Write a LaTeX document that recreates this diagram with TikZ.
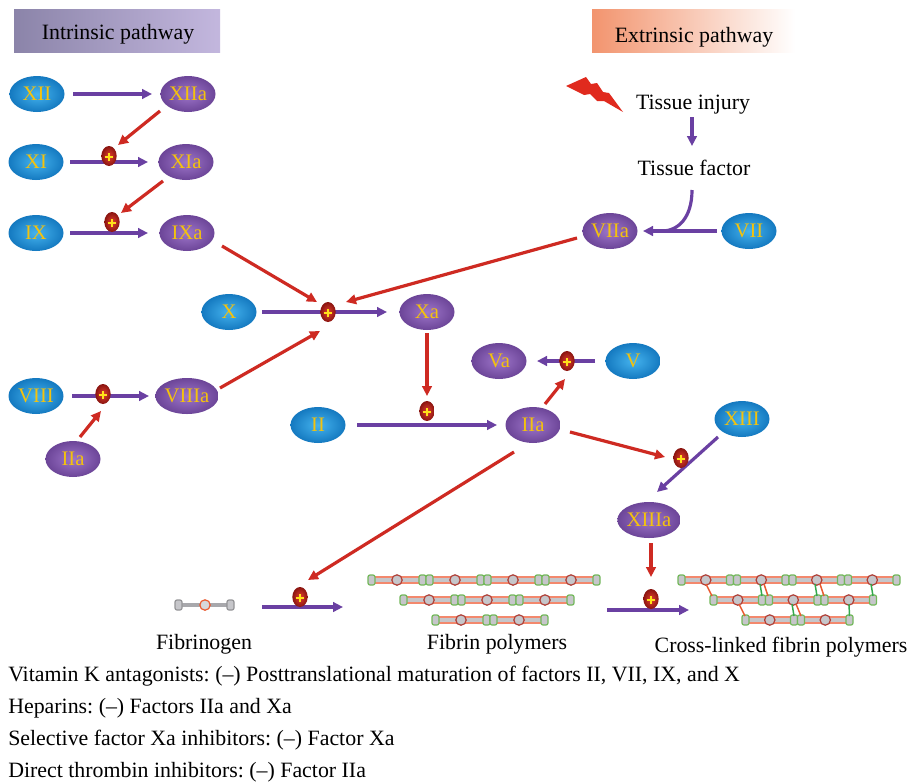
\documentclass[tikz,border=0pt]{standalone}
\usepackage{fontspec}
\setmainfont{Liberation Serif}
\usetikzlibrary{arrows.meta,shapes.geometric,calc}
\pgfdeclarelayer{back}
\pgfsetlayers{back,main}
\frenchspacing

\definecolor{arrowpurple}{HTML}{6A40A2}
\definecolor{arrowred}{HTML}{CE2A22}
\definecolor{factorgold}{HTML}{F4C20D}
\definecolor{zymblue}{HTML}{1479C0}
\definecolor{zymbluehi}{HTML}{45B3EE}
\definecolor{actpurple}{HTML}{6C4598}
\definecolor{actpurplehi}{HTML}{9E76CA}
\definecolor{ballred}{HTML}{E2402E}
\definecolor{balldark}{HTML}{8A1410}
\definecolor{plusyellow}{HTML}{FFE21A}
\definecolor{intrleft}{HTML}{8B84A9}
\definecolor{intrright}{HTML}{C3B7DE}
\definecolor{extrleft}{HTML}{F2946E}
\definecolor{extrmid}{HTML}{F8BE9F}
\definecolor{halocol}{HTML}{F27454}
\definecolor{fibgray}{HTML}{C6C6CA}
\definecolor{fibgreen}{HTML}{72B85A}
\definecolor{fibred}{HTML}{B04038}
\definecolor{linkred}{HTML}{EA5A30}
\definecolor{linkgreen}{HTML}{34A84C}
\definecolor{boltred}{HTML}{E02A1E}

\tikzset{
  factor/.style={ellipse, minimum width=41.25pt, minimum height=27pt, inner sep=0pt,
    text=factorgold, font=\fontsize{15.5}{16}\selectfont},
  zymogen/.style={factor, inner color=zymbluehi, outer color=zymblue},
  active/.style={factor, inner color=actpurplehi, outer color=actpurple},
  plusball/.style={ellipse, minimum width=11.5pt, minimum height=15pt, inner sep=0pt,
    inner color=ballred, outer color=balldark,
    path picture={\draw[plusyellow, line width=0.9pt]
      ([xshift=-3.2pt,yshift=-0.8pt]path picture bounding box.center) -- ([xshift=3.2pt,yshift=-0.8pt]path picture bounding box.center)
      ([yshift=-4pt]path picture bounding box.center) -- ([yshift=2.4pt]path picture bounding box.center);}},
  parr/.style={draw=arrowpurple, line width=2.4pt, -{Triangle[length=7.5pt,width=7.2pt]}},
  rarr/.style={draw=arrowred, line width=2.4pt, -{Triangle[length=7.5pt,width=7.2pt]}},
  caption/.style={font=\fontsize{16.4}{18}\selectfont, inner sep=0pt},
  hdrbox/.style={minimum height=32.25pt, inner sep=0pt},
  fibblock/.style={draw=fibgreen, fill=fibgray, line width=0.9pt, rounded corners=1.5pt},
  fibnode/.style={draw=fibred, fill=fibgray, line width=0.9pt},
  xlinkred/.style={linkred, line width=1.1pt},
  xlinkgreen/.style={linkgreen, line width=1.1pt},
}

% one fibrin strand: start x, y, number of monomers, monomer length
\newcommand{\fibrow}[4]{%
  \draw[line width=6pt, halocol, opacity=0.85] (#1,#2) -- ({#1+#3*#4},#2);
  \draw[line width=2.6pt, fibgray] (#1,#2) -- ({#1+#3*#4},#2);
  \foreach \k in {1,...,#3}{
    \pgfmathsetmacro{\ua}{#1+(\k-1)*#4+3.5}
    \pgfmathsetmacro{\ub}{#1+\k*#4-3.5}
    \pgfmathsetmacro{\uc}{#1+(\k-0.5)*#4}
    \draw[fibblock] (\ua-3.5,#2-5) rectangle (\ua+3.5,#2+5);
    \draw[fibblock] (\ub-3.5,#2-5) rectangle (\ub+3.5,#2+5);
    \draw[fibnode] (\uc,#2) circle[radius=3.9pt];
  }%
}

\begin{document}
\begin{tikzpicture}[x=0.75pt,y=-0.75pt]
\useasboundingbox (0,0) rectangle (909,782);
\begin{pgfonlayer}{back}
\fill[white] (0,0) rectangle (909,782);
\end{pgfonlayer}

% pathway headers
\node[hdrbox, minimum width=154.5pt, left color=intrleft, right color=intrright] (intrbox) at (117,30.5) {};
\node[caption, anchor=base] (intrtext) at (118,39.5) {Intrinsic pathway};
\node[hdrbox, minimum width=152.25pt, left color=extrleft, middle color=extrmid, right color=white] (extrbox) at (693.5,30.5) {};
\node[caption, anchor=base] (extrtext) at (694,42.5) {Extrinsic pathway};

% tissue injury
\fill[boltred] (566,86) -- (586,77) -- (591,84) -- (597,83) -- (603,92) -- (609,93) -- (623,112)
  -- (604,101) -- (597,101) -- (590,94) -- (584,95) -- cycle;
\node[caption, anchor=base] (injury) at (693,109) {Tissue injury};
\node[caption, anchor=base] (tf) at (694,175) {Tissue factor};

% coagulation factors
\node[zymogen] (XII) at (37,94) {XII};
\node[active]  (XIIa) at (188,94) {XIIa};
\node[zymogen] (XI) at (36,162) {XI};
\node[active]  (XIa) at (186,162) {XIa};
\node[zymogen] (IX) at (36,233) {IX};
\node[active]  (IXa) at (187,233) {IXa};
\node[zymogen] (X) at (229,312) {X};
\node[active]  (Xa) at (427,312) {Xa};
\node[zymogen] (VIII) at (36,396) {VIII};
\node[active]  (VIIIa) at (187,396) {VIIIa};
\node[active]  (IIb) at (73,459) {IIa};
\node[zymogen] (II) at (318,425) {II};
\node[active]  (IIa) at (533,425) {IIa};
\node[active]  (Va) at (499,361) {Va};
\node[zymogen] (V) at (633,361) {V};
\node[zymogen] (XIII) at (742,419) {XIII};
\node[active]  (XIIIa) at (649,520) {XIIIa};
\node[active]  (VIIa) at (610,231) {VIIa};
\node[zymogen] (VII) at (749,231) {VII};

% activation markers
\node[plusball] (p1) at (109,156) {};
\node[plusball] (p2) at (112,222) {};
\node[plusball] (p3) at (328,312) {};
\node[plusball] (p4) at (103,394) {};
\node[plusball] (p5) at (427,411) {};
\node[plusball] (p6) at (567,361) {};
\node[plusball] (p7) at (681,458) {};
\node[plusball] (p8) at (300,597) {};
\node[plusball] (p9) at (651,599) {};

\coordinate (tfjoin) at (662,231);
\coordinate (fgout) at (262,607);
\coordinate (fpin) at (343,607);
\coordinate (fpout) at (607,610);
\coordinate (xlin) at (689,610);

\begin{pgfonlayer}{back}
% conversions
\draw[parr] ($(XII)+(36,0)$) -- ($(XIIa)+(-36,0)$);
\draw[parr] ($(XI)+(34,0)$) -- ($(XIa)+(-38,0)$);
\draw[parr] ($(IX)+(34,0)$) -- ($(IXa)+(-39,0)$);
\draw[parr] ($(X)+(33,0)$) -- ($(Xa)+(-40,0)$);
\draw[parr] ($(VIII)+(36,0)$) -- ($(VIIIa)+(-38,0)$);
\draw[parr] ($(II)+(39,0)$) -- ($(IIa)+(-36,0)$);
\draw[parr] ($(V)+(-38,0)$) -- ($(Va)+(38,0)$);
\draw[parr] ($(injury.base)+(-1,8)$) -- ($(tf.base)+(-2,-29)$);
\draw[draw=arrowpurple, line width=2.4pt] ($(tf.base)+(-2,15)$) .. controls ($(tf.base)+(-2,43)$) and ($(tfjoin)+(16,0)$) .. (tfjoin);
\draw[parr] ($(VII)+(-32,0)$) -- ($(VIIa)+(33,0)$);
\draw[parr] ($(XIII)+(-24,18)$) -- ($(XIIIa)+(8,-28)$);
\draw[parr] (fgout) -- (fpin);
\draw[parr] (fpout) -- (xlin);
% activations
\draw[rarr] ($(XIIa)+(-28,17)$) -- ($(p1)+(9,-11)$);
\draw[rarr] ($(XIa)+(-23,19)$) -- ($(p2)+(9,-9)$);
\draw[rarr] ($(IXa)+(35,13)$) -- ($(p3)+(-11,-10)$);
\draw[rarr] ($(VIIa)+(-33,7)$) -- ($(p3)+(18,-10)$);
\draw[rarr] ($(VIIIa)+(33,-8)$) -- ($(p3)+(-8,19)$);
\draw[rarr] ($(Xa)+(0,21)$) -- ($(p5)+(0,-15)$);
\draw[rarr] ($(IIa)+(12,-21)$) -- ($(p6)+(-2,18)$);
\draw[rarr] ($(IIa)+(37,7)$) -- ($(p7)+(-16,-1)$);
\draw[rarr] ($(IIa)+(-19,27)$) -- ($(p8)+(8,-17)$);
\draw[rarr] ($(IIb)+(7,-22)$) -- ($(p4)+(-2,17)$);
\draw[rarr] ($(XIIIa)+(2,23)$) -- ($(p9)+(0,-22)$);
\end{pgfonlayer}

% fibrinogen monomer
\draw[line width=2.6pt, fibgray!85!black] (178,605) -- (231,605);
\draw[draw=fibgray!75!black, fill=fibgray, line width=0.9pt, rounded corners=1.5pt] (175,600) rectangle (182,610);
\draw[draw=fibgray!75!black, fill=fibgray, line width=0.9pt, rounded corners=1.5pt] (227,600) rectangle (234,610);
\draw[draw=linkred, fill=fibgray!70!white, line width=0.9pt] (205,605) circle[radius=3.9pt];

% fibrin polymers
\fibrow{368}{580}{4}{58}
\fibrow{400}{600}{3}{58}
\fibrow{432}{620}{2}{58}

% cross-linked fibrin polymers
\fibrow{678}{580}{4}{55.5}
\fibrow{710}{600}{3}{55.5}
\fibrow{742}{620}{2}{55.5}
% cross-links between strands
\draw[xlinkred]   (706,584) -- (712,596);
\draw[xlinkgreen] (760,584) -- (762,596);
\draw[xlinkred]   (764,584) -- (768,596);
\draw[xlinkgreen] (815,584) -- (817,596);
\draw[xlinkred]   (820,584) -- (824,596);
\draw[xlinkgreen] (871,584) -- (873,596);
\draw[xlinkred]   (739,604) -- (745,616);
\draw[xlinkgreen] (792,604) -- (794,616);
\draw[xlinkred]   (796,604) -- (801,616);
\draw[xlinkgreen] (849,604) -- (849.5,616);

\node[caption, anchor=base] (fgname) at (204,649) {Fibrinogen};
\node[caption, anchor=base] (fpname) at (497,649) {Fibrin polymers};
\node[caption, anchor=base] (xlname) at (781,652) {Cross-linked fibrin polymers};

% anticoagulant targets
\node[caption, anchor=base west] (vka) at (8,681) {Vitamin K antagonists: (--) Posttranslational maturation of factors II, VII, IX, and X};
\node[caption, anchor=base west] (hep) at (8,713) {Heparins: (--) Factors IIa and Xa};
\node[caption, anchor=base west] (sxa) at (8,745.5) {Selective factor Xa inhibitors: (--) Factor Xa};
\node[caption, anchor=base west] (dti) at (8,777) {Direct thrombin inhibitors: (--) Factor IIa};
\end{tikzpicture}
\end{document}
